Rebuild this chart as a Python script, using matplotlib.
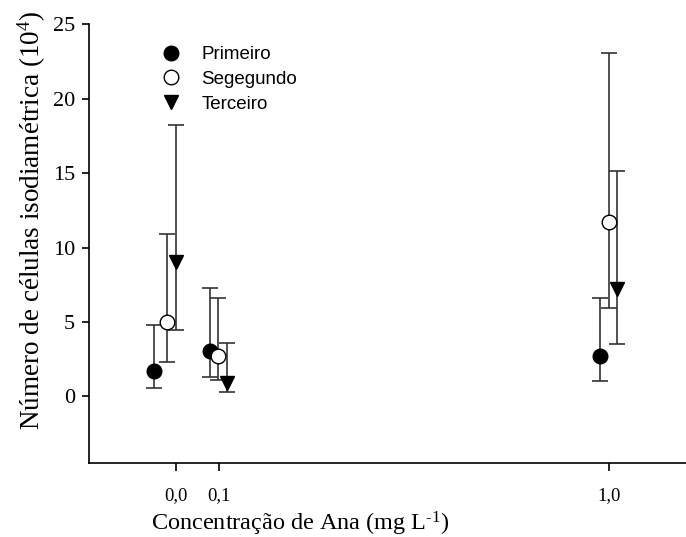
import matplotlib.pyplot as plt
import numpy as np

plt.rcParams['mathtext.fontset'] = 'custom'
plt.rcParams['mathtext.rm'] = 'Liberation Serif'
plt.rcParams['mathtext.it'] = 'Liberation Serif:italic'

# concentration positions (slightly offset per series)
x_primeiro = [-0.05, 0.079, 0.979]
x_segundo = [-0.021, 0.099, 1.0]
x_terceiro = [0.0, 0.119, 1.019]

# means and error limits
y_primeiro = [1.7, 3.02, 2.7]
lo_primeiro = [0.56, 1.28, 1.05]
hi_primeiro = [4.81, 7.3, 6.64]

y_segundo = [5.03, 2.73, 11.7]
lo_segundo = [2.31, 1.07, 5.93]
hi_segundo = [10.9, 6.64, 23.05]

y_terceiro = [9.0, 0.9, 7.2]
lo_terceiro = [4.47, 0.3, 3.54]
hi_terceiro = [18.2, 3.58, 15.15]

xticks = [0.0, 0.1, 1.0]
xticklabels = ['0,0', '0,1', '1,0']


def err(y, lo, hi):
    y = np.array(y)
    return [y - np.array(lo), np.array(hi) - y]


def main():
    fig = plt.figure(figsize=(6.86, 5.37), dpi=100)
    ax = fig.add_axes([0.1297, 0.137, 0.884, 0.818])

    ebkw = dict(ecolor='#333333', elinewidth=1.2, capsize=6, capthick=1.2,
                linestyle='none', markersize=10.5, zorder=3)
    p1 = ax.errorbar(x_primeiro, y_primeiro, yerr=err(y_primeiro, lo_primeiro, hi_primeiro),
                     marker='o', mfc='black', mec='black', **ebkw)
    p2 = ax.errorbar(x_segundo, y_segundo, yerr=err(y_segundo, lo_segundo, hi_segundo),
                     marker='o', mfc='white', mec='black', **ebkw)
    p3 = ax.errorbar(x_terceiro, y_terceiro, yerr=err(y_terceiro, lo_terceiro, hi_terceiro),
                     marker='v', mfc='black', mec='black', **ebkw)

    ax.set_xlim(-0.2, 1.2)
    ax.set_ylim(-4.5, 25)
    ax.set_yticks([0, 5, 10, 15, 20, 25])
    ax.set_xticks(xticks)
    ax.set_xticklabels(xticklabels)

    ax.spines['top'].set_visible(False)
    ax.spines['right'].set_visible(False)
    for s in ax.spines.values():
        s.set_linewidth(1.2)

    ax.tick_params(axis='y', direction='out', length=5, width=1.2, pad=5)
    ax.tick_params(axis='x', direction='out', length=6, width=1.2, pad=11)
    for lbl in ax.get_yticklabels():
        lbl.set_fontfamily('Liberation Serif')
        lbl.set_fontsize(16)
    for lbl in ax.get_xticklabels():
        lbl.set_fontfamily('Liberation Serif')
        lbl.set_fontsize(13.5)

    ax.set_xlabel('Concentração de Ana (mg L$^{\\text{-1}}$)',
                  fontfamily='Liberation Serif', fontsize=17.5)
    ax.xaxis.set_label_coords(0.348, -0.152)
    ax.xaxis.label.set_va('baseline')

    ax.set_ylabel('Número de células isodiamétrica (10$^{\\mathregular{4}}$)',
                  fontfamily='Liberation Serif', fontsize=19.5)
    ax.yaxis.set_label_coords(-0.094, 0.554)
    ax.yaxis.label.set_va('center')

    # marker-only legend handles
    ax.legend([p1[0], p2[0], p3[0]], ['Primeiro', 'Segegundo', 'Terceiro'],
              loc='upper left', bbox_to_anchor=(0.1, 0.967), frameon=False,
              prop={'family': 'Liberation Sans', 'size': 13.5},
              handletextpad=0.85, labelspacing=0.4, handlelength=1.5,
              borderaxespad=0)

    fig.savefig('out.png', dpi=100)


if __name__ == '__main__':
    main()
